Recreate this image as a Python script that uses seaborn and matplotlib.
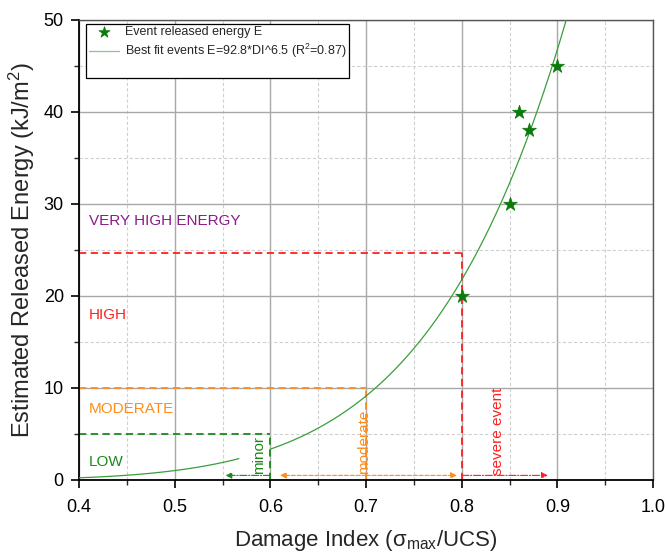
import numpy as np
import pandas as pd
import seaborn as sns
import matplotlib.pyplot as plt
from matplotlib.ticker import MultipleLocator

# Data
event_di = [0.80, 0.85, 0.86, 0.87, 0.90]
event_energy = [20, 30, 40, 38, 45]
fit_a = 92.8
fit_b = 6.5
fit_range_low = [0.40, 0.567]
fit_range_high = [0.60, 0.909]

level_names = ["VERY HIGH ENERGY", "HIGH", "MODERATE", "LOW"]
level_y = [28.2, 17.9, 7.7, 2.0]
level_colors = ["#8B1A8B", "#FF2020", "#FF8C1A", "#1A8A1A"]

thresholds_di = [0.6, 0.7, 0.8]
thresholds_e = [5, 10, 24.7]
thresh_colors = ["#1A8A1A", "#FF8C1A", "#FF2020"]

sns.set_theme(style="white")
plt.rcParams['font.family'] = ['Liberation Sans', 'DejaVu Sans']
plt.rcParams['mathtext.fontset'] = 'custom'
plt.rcParams['mathtext.rm'] = 'Liberation Sans'
plt.rcParams['mathtext.it'] = 'Liberation Sans'

fig = plt.figure(figsize=(6.65, 5.54), dpi=100)
ax = fig.add_axes([0.119, 0.1336, 0.863, 0.8304])

# fit curve (two pieces)
x1 = np.linspace(fit_range_low[0], fit_range_low[1], 100)
x2 = np.linspace(fit_range_high[0], fit_range_high[1], 200)
sns.lineplot(x=x1, y=fit_a * x1 ** fit_b, ax=ax, color="#3A9E3A", lw=0.9,
             label="Best fit events E=92.8*DI^6.5 (R$^2$=0.87)", zorder=3)
sns.lineplot(x=x2, y=fit_a * x2 ** fit_b, ax=ax, color="#3A9E3A", lw=0.9, zorder=3)

# threshold dashed lines
for xd, ye, c in zip(thresholds_di, thresholds_e, thresh_colors):
    ax.plot([0.4, xd], [ye, ye], ls=(0, (4, 2.5)), color=c, lw=1.3, zorder=2)
    ax.plot([xd, xd], [0, ye], ls=(0, (4, 2.5)), color=c, lw=1.3, zorder=2)

# arrows near bottom
ya = 0.5
ax.annotate("", xy=(0.553, ya), xytext=(0.6, ya),
            arrowprops=dict(arrowstyle="-|>", color="#1A8A1A", lw=0.8, ls="-.",
                            mutation_scale=9, shrinkA=0, shrinkB=0))
ax.annotate("", xy=(0.61, ya), xytext=(0.7, ya),
            arrowprops=dict(arrowstyle="-|>", color="#FF8C1A", lw=0.8, ls="--",
                            mutation_scale=9, shrinkA=0, shrinkB=0))
ax.annotate("", xy=(0.795, ya), xytext=(0.7, ya),
            arrowprops=dict(arrowstyle="-|>", color="#FF8C1A", lw=0.8, ls="--",
                            mutation_scale=9, shrinkA=0, shrinkB=0))
ax.annotate("", xy=(0.89, ya), xytext=(0.8, ya),
            arrowprops=dict(arrowstyle="-|>", color="#FF2020", lw=0.8, ls="-.",
                            mutation_scale=9, shrinkA=0, shrinkB=0))

# data points
df = pd.DataFrame({"di": event_di, "E": event_energy})
sns.scatterplot(data=df, x="di", y="E", ax=ax, marker="*", s=110, color="#0A7A0A",
                edgecolor="#0A7A0A", linewidth=0.5, label="Event released energy E", zorder=5)

# level labels
for name, y, c in zip(level_names, level_y, level_colors):
    ax.text(0.41, y, name, color=c, fontsize=11, va="center", ha="left")

ax.text(0.588, 2.7, "minor", rotation=90, color="#1A8A1A", fontsize=11, ha="center", va="center")
ax.text(0.698, 4.1, "moderate", rotation=90, color="#FF8C1A", fontsize=11, ha="center", va="center")
ax.text(0.838, 5.3, "severe event", rotation=90, color="#FF2020", fontsize=11, ha="center", va="center")

ax.set_xlim(0.4, 1.0)
ax.set_ylim(0, 50)
ax.xaxis.set_major_locator(MultipleLocator(0.1))
ax.xaxis.set_minor_locator(MultipleLocator(0.05))
ax.yaxis.set_major_locator(MultipleLocator(10))
ax.yaxis.set_minor_locator(MultipleLocator(5))
ax.set_xticks(np.arange(0.4, 1.01, 0.1))
ax.set_xticklabels(["0.4", "0.5", "0.6", "0.7", "0.8", "0.9", "1.0"])
ax.grid(which="major", color="#A8A8A8", lw=1.0, ls="-", zorder=0)
ax.grid(which="minor", color="#D0D0D0", lw=0.8, ls=(0, (3, 2)), zorder=0)
ax.set_axisbelow(True)
ax.tick_params(which="major", direction="out", length=6, width=1.2, colors="black",
               labelsize=13, bottom=True, left=True, pad=5)
ax.tick_params(axis="x", which="major", pad=8)
ax.tick_params(which="minor", direction="out", length=3.5, width=1.0, bottom=True, left=True)
for s in ["left", "bottom"]:
    ax.spines[s].set_color("black")
    ax.spines[s].set_linewidth(1.3)
for s in ["top", "right"]:
    ax.spines[s].set_color("#555555")
    ax.spines[s].set_linewidth(1.0)

ax.set_xlabel("Damage Index (σ$_{\\rm max}$/UCS)", fontsize=16, labelpad=8)
ax.set_ylabel(r"Estimated Released Energy (kJ/m$^2$)", fontsize=17, labelpad=5)

# legend with empty third row
handles, labels = ax.get_legend_handles_labels()
order = [labels.index("Event released energy E"),
         labels.index("Best fit events E=92.8*DI^6.5 (R$^2$=0.87)")]
h = [handles[i] for i in order]
l = [labels[i] for i in order]
blank = plt.Line2D([], [], color="none")
h.append(blank)
l.append(" ")
leg = ax.legend(h, l, loc="upper left", bbox_to_anchor=(0.012, 0.992), borderaxespad=0,
                fontsize=9, frameon=True, fancybox=False, edgecolor="black", framealpha=1,
                borderpad=0.2, labelspacing=0.3, handlelength=2.4, handletextpad=0.5,
                markerscale=0.8)
leg.get_frame().set_linewidth(0.9)
for ln in leg.get_lines():
    ln.set_alpha(0.6)

fig.savefig("out.png", dpi=100)
